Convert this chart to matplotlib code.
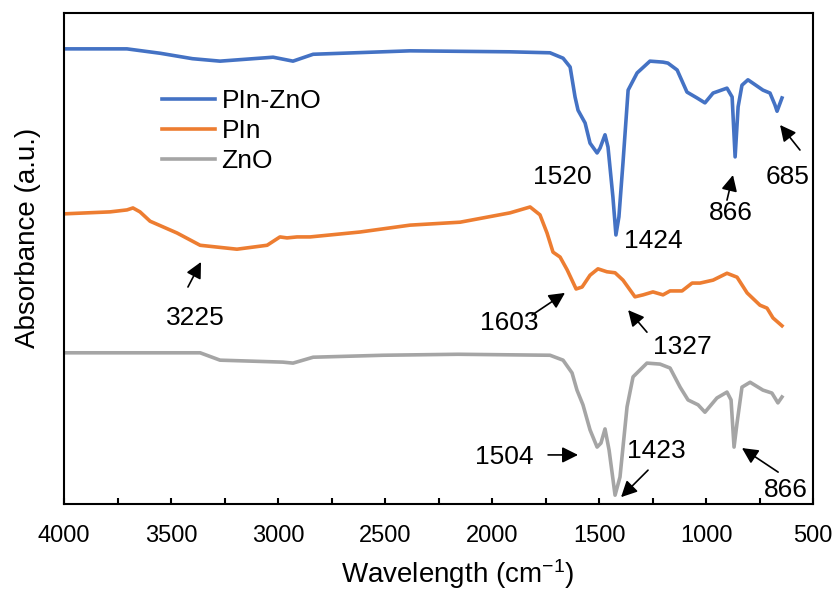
import matplotlib
matplotlib.use("Agg")
import matplotlib.pyplot as plt
from matplotlib.ticker import MultipleLocator

plt.rcParams["font.family"] = ["Liberation Sans", "DejaVu Sans"]
plt.rcParams["mathtext.fontset"] = "custom"
plt.rcParams["mathtext.rm"] = "Liberation Sans"
plt.rcParams["mathtext.it"] = "Liberation Sans:italic"

### data (arbitrary absorbance units) ###
wn_pin_zno = [4000, 3706, 3550, 3400, 3271, 3023, 2930, 2836, 2383, 1916, 1729,
              1668, 1635, 1612, 1598, 1565, 1542, 1509, 1495, 1472, 1458, 1435,
              1421, 1407, 1388, 1364, 1322, 1262, 1201, 1178, 1135, 1089, 1042,
              1005, 967, 902, 878, 864, 850, 832, 804, 734, 701, 678, 668, 645]
abs_pin_zno = [92.7, 92.7, 91.8, 90.7, 90.2, 91.0, 90.2, 91.6, 92.3, 92.1, 91.9,
               90.8, 89.0, 82.9, 80.2, 77.6, 73.5, 71.5, 72.5, 75.2, 72.7, 62.5,
               54.8, 58.5, 69.5, 84.3, 87.8, 90.2, 90.0, 89.8, 88.4, 83.9, 82.7,
               81.7, 83.7, 84.7, 82.9, 70.7, 80.9, 85.3, 86.4, 84.3, 83.7, 81.3,
               80.0, 82.7]

wn_pin = [4000, 3785, 3706, 3678, 3645, 3598, 3472, 3364, 3192, 3051, 2991,
          2958, 2911, 2850, 2617, 2383, 2149, 1916, 1822, 1776, 1743, 1715,
          1682, 1649, 1607, 1579, 1542, 1505, 1463, 1425, 1388, 1332, 1294,
          1248, 1201, 1168, 1112, 1065, 1028, 967, 902, 855, 808, 748, 715,
          687, 645]
abs_pin = [59.1, 59.5, 59.9, 60.3, 59.5, 57.6, 55.2, 52.7, 51.9, 52.7, 54.4,
           54.2, 54.4, 54.4, 55.4, 56.8, 57.4, 59.3, 60.5, 58.9, 55.2, 51.3,
           50.3, 47.7, 43.8, 44.2, 46.6, 47.9, 47.3, 47.1, 45.6, 42.2, 42.6,
           43.2, 42.6, 43.4, 43.4, 45.0, 45.0, 45.6, 47.0, 46.2, 43.0, 40.5, 39.9,
           37.9, 36.3]

wn_zno = [4000, 3364, 3271, 2977, 2930, 2836, 2509, 2159, 1729, 1668, 1626,
          1603, 1575, 1542, 1509, 1491, 1472, 1453, 1425, 1402, 1369, 1341,
          1276, 1215, 1168, 1121, 1084, 1037, 1005, 949, 902, 883, 869, 855,
          832, 794, 734, 692, 664, 645]
abs_zno = [30.8, 30.8, 29.3, 28.9, 28.7, 29.9, 30.3, 30.5, 30.3, 29.3, 26.7,
           23.2, 20.2, 15.1, 11.6, 12.4, 15.3, 11.0, 1.8, 5.5, 19.8, 25.9,
           28.7, 28.5, 27.7, 23.8, 21.2, 20.2, 18.7, 21.6, 22.8, 21.2, 11.6, 16.5,
           23.8, 24.8, 23.2, 22.6, 20.6, 21.8]

series_names = ["PIn-ZnO", "PIn", "ZnO"]
series_colors = ["#4472C4", "#ED7D31", "#A5A5A5"]

# peak labels: (text, text position, arrow tail, arrow head) in data coords
peak_labels = [
    ("1520", (1673, 66.6), None, None),
    ("1424", (1248, 53.6), None, None),
    ("866", (883, 59.3), (902, 61.9), (874, 67.0)),
    ("685", (617, 66.6), (561, 72.1), (654, 77.2)),
    ("3225", (3388, 37.9), (3421, 44.2), (3360, 49.3)),
    ("1603", (1920, 36.9), (1813, 38.5), (1659, 43.0)),
    ("1327", (1112, 32.0), (1276, 35.0), (1364, 39.5)),
    ("1504", (1944, 9.6), (1738, 10.0), (1598, 10.0)),
    ("1423", (1234, 10.8), (1271, 6.9), (1397, 1.4)),
    ("866", (626, 2.9), (663, 6.5), (832, 11.4)),
]

fig = plt.figure(figsize=(8.36, 5.92), dpi=100)
ax = fig.add_axes([0.0766, 0.1486, 0.8959, 0.8294])

for wn, ab, name, color in zip(
    [wn_pin_zno, wn_pin, wn_zno],
    [abs_pin_zno, abs_pin, abs_zno],
    series_names,
    series_colors,
):
    ax.plot(wn, ab, color=color, lw=2.6, label=name, solid_joinstyle="round")

for text, pos, tail, head in peak_labels:
    ax.text(pos[0], pos[1], text, fontsize=19, ha="center", va="center")
    if tail is not None:
        ax.annotate(
            "",
            xy=head,
            xytext=tail,
            arrowprops=dict(arrowstyle="-|>", color="black", lw=1.2,
                            mutation_scale=24, shrinkA=0, shrinkB=0),
        )

ax.set_xlim(4000, 500)
ax.set_ylim(0, 100)
ax.xaxis.set_major_locator(MultipleLocator(500))
ax.xaxis.set_minor_locator(MultipleLocator(250))
ax.tick_params(axis="x", which="both", direction="in", length=4, width=1.5,
               labelsize=17, pad=15)
ax.set_yticks([])
for spine in ax.spines.values():
    spine.set_linewidth(1.5)

ax.set_xlabel(r"Wavelength (cm$^{-1}$)", fontsize=20, va="center")
ax.xaxis.set_label_coords(0.525, -0.143)
ax.set_ylabel("Absorbance (a.u.)", fontsize=20, va="center")
ax.yaxis.set_label_coords(-0.048, 0.542)

ax.legend(loc="upper left", bbox_to_anchor=(0.131, 0.845), frameon=False,
          fontsize=19, handlelength=2.0, handletextpad=0.25, labelspacing=0.23,
          borderpad=0, borderaxespad=0)

fig.savefig("out.png", dpi=100)
